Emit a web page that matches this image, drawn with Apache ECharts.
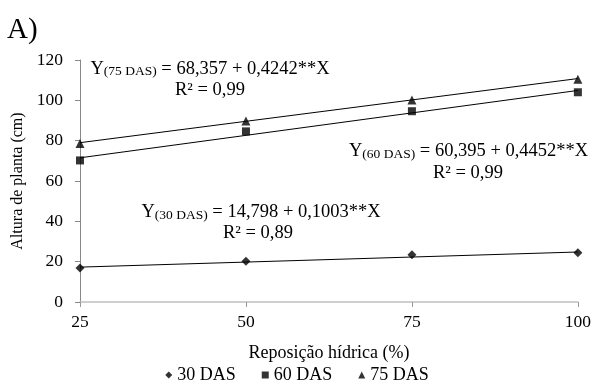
<!DOCTYPE html>
<html><head><meta charset="utf-8">
<script src="https://cdn.jsdelivr.net/npm/echarts@6/dist/echarts.min.js"></script>
<style>html,body{margin:0;padding:0;background:#fff}#c{width:594px;height:383px}</style>
</head><body><div id="c"></div>
<script>
var xValues = [25, 50, 75, 100];
var das30 = [16.9, 20.2, 23.4, 24.4];
var das60 = [70.2, 84.6, 94.6, 104.0];
var das75 = [78.6, 89.8, 100.2, 110.5];
var trendX = [25, 100];
var trend30 = [17.3, 24.8];
var trend60 = [71.5, 104.9];
var trend75 = [79.0, 110.8];
var seriesNames = ['30 DAS', '60 DAS', '75 DAS'];
var symbols = ['diamond', 'rect', 'triangle'];
var yTicks = [0, 20, 40, 60, 80, 100, 120];
var xTicks = [25, 50, 75, 100];

function pairs(xs, ys){ return xs.map(function(x,i){return [x, ys[i]];}); }

var font = "'Liberation Serif', 'Times New Roman', serif";
var chart = echarts.init(document.getElementById('c'));
var scatterData = [das30, das60, das75];
var trendData = [trend30, trend60, trend75];
var series = [];
trendData.forEach(function(t){
  series.push({type:'line', data: pairs(trendX, t), showSymbol:false, symbol:'none', silent:true,
    lineStyle:{color:'#000', width:1}, z:2});
});
scatterData.forEach(function(d,i){
  series.push({type:'scatter', name: seriesNames[i], data: pairs(xValues, d), symbol: symbols[i],
    symbolSize: i===1 ? 8 : 9, itemStyle:{color:'#000'}, z:3});
});
var rich = {
  m:{fontFamily:font, fontSize:18.5, color:'#000', lineHeight:20, verticalAlign:'bottom'},
  s:{fontFamily:font, fontSize:13.5, color:'#000', lineHeight:8, verticalAlign:'bottom'}
};
function eq(x, y, sub, rest){
  return {type:'text', x:x, y:y, style:{text:'{m|Y}{s|(' + sub + ')}{m|' + rest + '}', rich:rich, verticalAlign:'middle', align:'left'}};
}
function txt(x, y, s, size){
  return {type:'text', x:x, y:y, style:{text:s, fontFamily:font, fontSize:size||18.5, fill:'#000', verticalAlign:'middle', align:'left'}};
}
chart.setOption({
  animation:false,
  backgroundColor:'#fff',
  textStyle:{fontFamily:font},
  grid:{left:80, right:16, top:60, bottom:81, containLabel:false},
  legend:{data:seriesNames, top:361, left:'center', itemWidth:7, itemHeight:7, itemGap:26,
    textStyle:{fontFamily:font, fontSize:18, color:'#000'}},
  xAxis:{type:'value', min:25, max:100, interval:25, name:'Reposição hídrica (%)', nameLocation:'middle', nameGap:42,
    nameTextStyle:{fontFamily:font, fontSize:18, color:'#000'},
    axisLine:{lineStyle:{color:'#c0c0c0', width:1.5}},
    axisTick:{show:true, length:5, lineStyle:{color:'#999', width:1}},
    axisLabel:{fontFamily:font, fontSize:17.5, color:'#000', margin:11},
    splitLine:{show:false}},
  yAxis:{type:'value', min:0, max:120, interval:20, name:'Altura de planta (cm)', nameLocation:'middle', nameGap:54,
    nameTextStyle:{fontFamily:font, fontSize:16, color:'#000'},
    axisLine:{show:true, lineStyle:{color:'#888', width:1}},
    axisTick:{show:true, length:5, lineStyle:{color:'#888', width:1}},
    axisLabel:{fontFamily:font, fontSize:17.5, color:'#000', margin:17},
    splitLine:{show:false}},
  graphic:[
    txt(7, 30, 'A)', 29),
    eq(90.5, 68.5, '75 DAS', ' = 68,357 + 0,4242**X'),
    txt(175, 90, 'R² = 0,99'),
    eq(349, 151, '60 DAS', ' = 60,395 + 0,4452**X'),
    txt(433, 173, 'R² = 0,99'),
    eq(141.5, 212, '30 DAS', ' = 14,798 + 0,1003**X'),
    txt(223, 233, 'R² = 0,89')
  ],
  series: series
});
</script></body></html>
